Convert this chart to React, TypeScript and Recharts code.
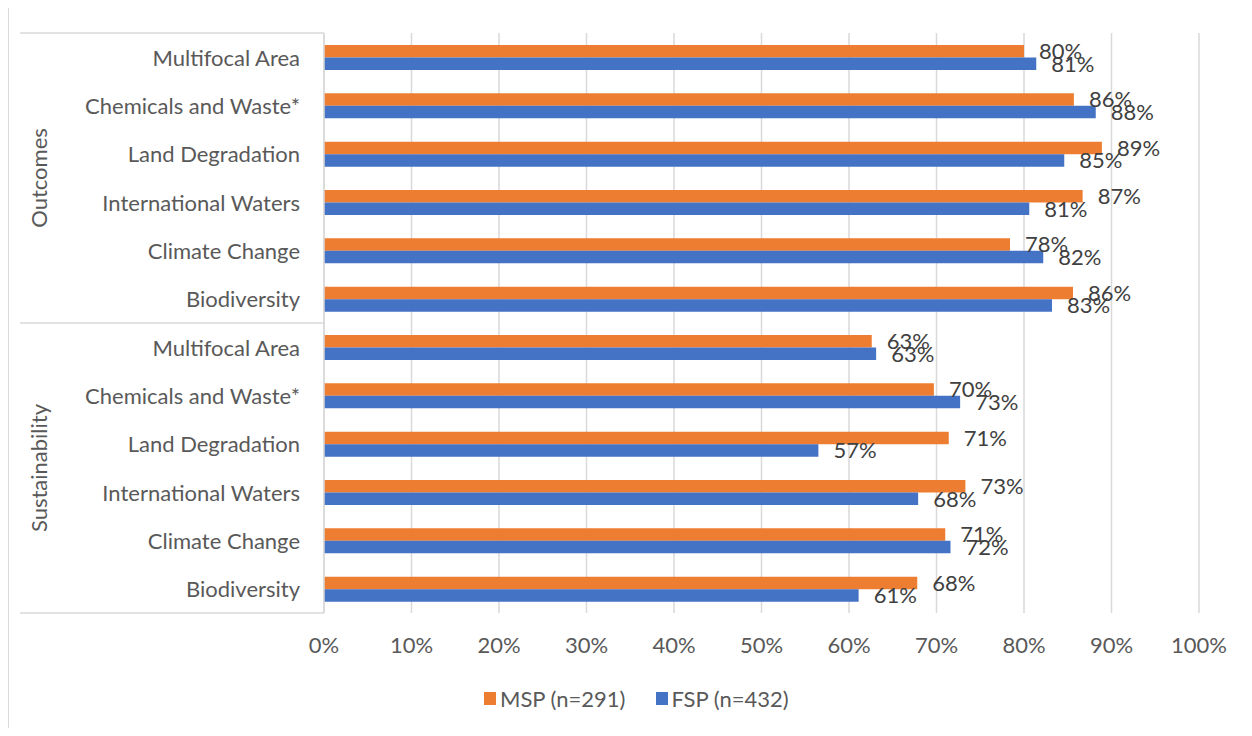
import { Bar, BarChart, CartesianGrid, LabelList, XAxis, YAxis } from 'recharts'

const categories = [
  'Multifocal Area',
  'Chemicals and Waste*',
  'Land Degradation',
  'International Waters',
  'Climate Change',
  'Biodiversity',
]
const groups = ['Outcomes', 'Sustainability']

const outcomesMsp = [80.0, 85.7, 88.9, 86.7, 78.4, 85.6]
const outcomesFsp = [81.4, 88.2, 84.6, 80.6, 82.2, 83.2]
const sustainabilityMsp = [62.6, 69.7, 71.4, 73.3, 71.0, 67.8]
const sustainabilityFsp = [63.1, 72.7, 56.5, 67.9, 71.6, 61.1]

const xTicks = [0, 10, 20, 30, 40, 50, 60, 70, 80, 90, 100]

const series = [
  { key: 'msp', label: 'MSP (n=291)', color: '#ED7D31' },
  { key: 'fsp', label: 'FSP (n=432)', color: '#4472C4' },
]

const rows = [
  ...categories.map((name, i) => ({ name, group: groups[0], msp: outcomesMsp[i], fsp: outcomesFsp[i] })),
  ...categories.map((name, i) => ({ name, group: groups[1], msp: sustainabilityMsp[i], fsp: sustainabilityFsp[i] })),
]

const FONT = 'Lato, "Open Sans", sans-serif'
const FONT_SIZE = 22
const LINE = '#d9d9d9'

const WIDTH = 1252
const HEIGHT = 736
const MARGIN = { top: 33, right: 53, bottom: 0, left: 0 }
const X_AXIS_HEIGHT = 123
const Y_AXIS_WIDTH = 324
const PLOT_HEIGHT = HEIGHT - MARGIN.top - MARGIN.bottom - X_AXIS_HEIGHT
const BAND = PLOT_HEIGHT / rows.length
const PER_GROUP = categories.length

// category label plus the group column (separator lines and rotated group name)
function CategoryTick(props: any) {
  const { x, y, payload, index } = props
  const top = y - BAND / 2
  const mid = top + (BAND * PER_GROUP) / 2
  const isFirst = index % PER_GROUP === 0
  const isLast = index === rows.length - 1
  return (
    <g>
      <text
        x={x}
        y={y}
        textAnchor="end"
        dominantBaseline="central"
        fill="#595959"
        fontSize={FONT_SIZE}
        fontFamily={FONT}
      >
        {payload.value}
      </text>
      {isFirst && (
        <>
          <line x1={20} x2={Y_AXIS_WIDTH} y1={top} y2={top} stroke={LINE} strokeWidth={1.5} />
          <text
            x={38}
            y={mid}
            textAnchor="middle"
            dominantBaseline="central"
            transform={`rotate(-90, 38, ${mid})`}
            fill="#595959"
            fontSize={FONT_SIZE}
            fontFamily={FONT}
          >
            {rows[index].group}
          </text>
        </>
      )}
      {isLast && (
        <line x1={20} x2={Y_AXIS_WIDTH} y1={y + BAND / 2} y2={y + BAND / 2} stroke={LINE} strokeWidth={1.5} />
      )}
    </g>
  )
}

const pct = (v: any) => `${Math.round(Number(v))}%`

export default function App() {
  return (
    <div style={{ margin: -8, width: WIDTH, height: HEIGHT, position: 'relative', background: '#fff', overflow: 'hidden' }}>
      <div
        style={{
          position: 'absolute',
          left: 7,
          top: 4,
          width: WIDTH,
          height: HEIGHT,
          borderLeft: `2px solid ${LINE}`,
          borderTop: `2px solid ${LINE}`,
          boxSizing: 'border-box',
        }}
      />
      <BarChart
        width={WIDTH}
        height={HEIGHT}
        data={rows}
        layout="vertical"
        margin={MARGIN}
        barGap={0}
        style={{ position: 'absolute', left: 0, top: 0 }}
      >
        <CartesianGrid horizontal={false} stroke={LINE} strokeWidth={1.5} />
        <XAxis
          type="number"
          domain={[0, 100]}
          ticks={xTicks}
          tickFormatter={(v: number) => `${v}%`}
          axisLine={false}
          tickLine={false}
          tickSize={0}
          tickMargin={24}
          height={X_AXIS_HEIGHT}
          tick={{ fill: '#595959', fontSize: FONT_SIZE, fontFamily: FONT }}
          interval={0}
        />
        <YAxis
          type="category"
          dataKey="name"
          width={Y_AXIS_WIDTH}
          axisLine={{ stroke: LINE, strokeWidth: 1.5 }}
          tickLine={false}
          tickSize={0}
          tickMargin={24}
          interval={0}
          allowDuplicatedCategory
          tick={<CategoryTick />}
        />
        {series.map((s) => (
          <Bar key={s.key} dataKey={s.key} name={s.label} fill={s.color} barSize={12.5} isAnimationActive={false}>
            <LabelList
              dataKey={s.key}
              position="right"
              offset={15}
              formatter={pct}
              fill="#404040"
              fontSize={FONT_SIZE}
              fontFamily={FONT}
            />
          </Bar>
        ))}
      </BarChart>
      <div
        style={{
          position: 'absolute',
          left: 484,
          top: 685,
          display: 'flex',
          gap: 30,
          fontFamily: FONT,
          fontSize: FONT_SIZE,
          color: '#595959',
        }}
      >
        {series.map((s) => (
          <div key={s.key} style={{ display: 'flex', alignItems: 'center', gap: 4 }}>
            <span style={{ width: 12, height: 13, background: s.color, display: 'inline-block' }} />
            <span>{s.label}</span>
          </div>
        ))}
      </div>
    </div>
  )
}
